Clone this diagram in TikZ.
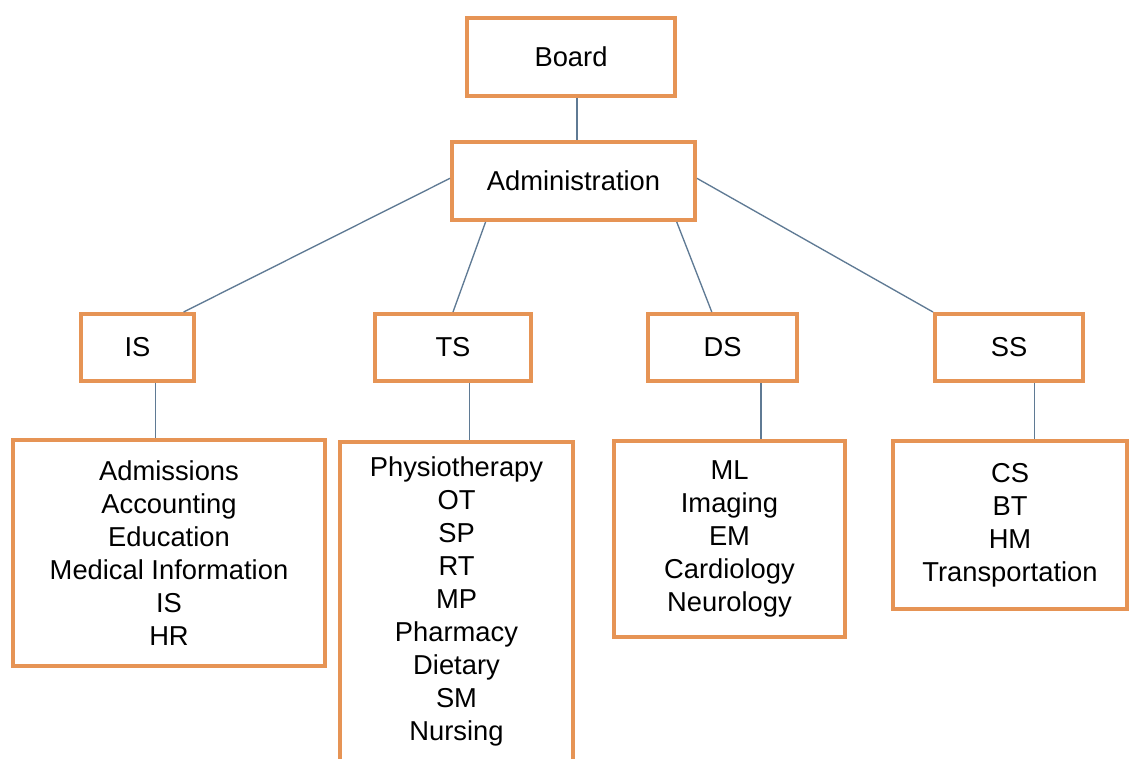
\documentclass[tikz,border=0pt]{standalone}
\usepackage{fontspec}
\setmainfont{Liberation Sans}
\usetikzlibrary{calc}
\definecolor{boxor}{RGB}{230,148,85}
\definecolor{conn}{RGB}{95,122,148}
\begin{document}
\begin{tikzpicture}[x=0.75pt,y=-0.75pt,
  box/.style={draw=boxor,line width=3pt,fill=white,inner sep=0pt,align=center,
    font=\fontsize{20.5}{24.75}\selectfont},
  link/.style={draw=conn,line width=1pt}]
\useasboundingbox (0,0) rectangle (1129,758);
\fill[white] (0,0) rectangle (1129,758);
% top
\node[box,minimum width=156pt,minimum height=58.5pt] (board) at (571,57) {Board};
\node[box,minimum width=182.25pt,minimum height=58.5pt] (admin) at (573.5,181) {Administration};
% second level
\node[box,minimum width=84.75pt,minimum height=50.25pt] (is) at (137.5,347.5) {IS};
\node[box,minimum width=117pt,minimum height=50.25pt] (ts) at (453,347.5) {TS};
\node[box,minimum width=111.75pt,minimum height=50.25pt] (ds) at (722.5,347.5) {DS};
\node[box,minimum width=111pt,minimum height=50.25pt] (ss) at (1009,347.5) {SS};
% lists
\node[box,minimum width=234pt,minimum height=169.5pt] (isl) at (169,553)
  {Admissions\\Accounting\\Education\\Medical Information\\IS\\HR};
\node[box,minimum width=174.75pt,minimum height=239.25pt] (tsl) at (456.5,601.5)
  {Physiotherapy\\OT\\SP\\RT\\MP\\Pharmacy\\Dietary\\SM\\Nursing};
\node[box,minimum width=173.25pt,minimum height=147pt] (dsl) at (729.5,539)
  {ML\\Imaging\\EM\\Cardiology\\Neurology};
\node[box,minimum width=175.5pt,minimum height=126pt] (ssl) at (1010,525)
  {CS\\BT\\HM\\Transportation};
% connectors
\coordinate (b1) at ([xshift=4.5pt]board.south);
\draw[link] (b1) -- (b1 |- admin.north);
\draw[link] ([yshift=2pt]admin.west) -- ($(is.north west)!0.894!(is.north east)$);
\draw[link] ($(admin.south west)!0.144!(admin.south east)$) -- (ts.north);
\draw[link] ($(admin.south west)!0.918!(admin.south east)$) -- ($(ds.north west)!0.43!(ds.north east)$);
\draw[link] ([yshift=2pt]admin.east) -- (ss.north west);
\coordinate (c1) at ($(is.south west)!0.655!(is.south east)$);
\coordinate (c2) at ($(ts.south west)!0.603!(ts.south east)$);
\coordinate (c3) at ($(ds.south west)!0.752!(ds.south east)$);
\coordinate (c4) at ($(ss.south west)!0.669!(ss.south east)$);
\draw[link] (c1) -- (c1 |- isl.north);
\draw[link] (c2) -- (c2 |- tsl.north);
\draw[link] (c3) -- (c3 |- dsl.north);
\draw[link] (c4) -- (c4 |- ssl.north);
\end{tikzpicture}
\end{document}
